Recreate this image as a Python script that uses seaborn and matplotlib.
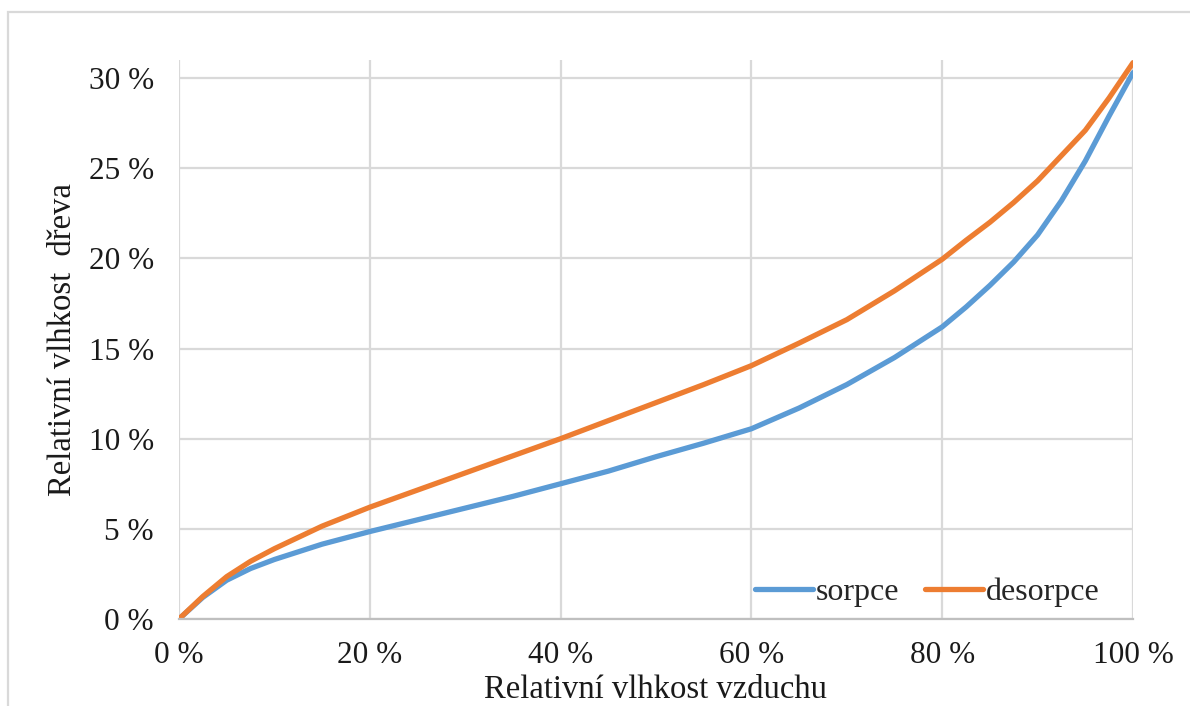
import pandas as pd
import matplotlib.pyplot as plt
import matplotlib.patches as mpatches
import seaborn as sns

# --- Data ---
rh_air = [0, 2.5, 5, 7.5, 10, 15, 20, 25, 30, 35, 40, 45, 50, 55, 60, 65, 70, 75,
          80, 82.5, 85, 87.5, 90, 92.5, 95, 97.5, 100]
sorpce = [0, 1.2, 2.15, 2.8, 3.3, 4.15, 4.85, 5.5, 6.15, 6.8, 7.5, 8.2, 9.0, 9.75, 10.55, 11.7, 13.0, 14.5,
          16.2, 17.3, 18.5, 19.8, 21.3, 23.2, 25.4, 27.9, 30.3]
desorpce = [0, 1.25, 2.35, 3.2, 3.9, 5.15, 6.2, 7.15, 8.1, 9.05, 10.0, 11.0, 12.0, 13.0, 14.05, 15.3, 16.6, 18.2,
            19.95, 21.0, 22.0, 23.1, 24.3, 25.7, 27.1, 28.9, 30.85]

x_ticks = [0, 20, 40, 60, 80, 100]
y_ticks = [0, 5, 10, 15, 20, 25, 30]
x_tick_labels = ["0 %", "20 %", "40 %", "60 %", "80 %", "100 %"]
y_tick_labels = ["0 %", "5 %", "10 %", "15 %", "20 %", "25 %", "30 %"]

series_names = ["sorpce", "desorpce"]
colors = ["#5B9BD5", "#ED7D31"]

df = pd.concat([
    pd.DataFrame({"rh": rh_air, "mc": sorpce, "serie": "sorpce"}),
    pd.DataFrame({"rh": rh_air, "mc": desorpce, "serie": "desorpce"}),
])

# --- Plot ---
sns.set_theme(style="whitegrid")
plt.rcParams['font.family'] = ['Liberation Serif', 'DejaVu Serif']
GRID = "#D9D9D9"

fig = plt.figure(figsize=(11.9, 7.06), dpi=100)
ax = fig.add_axes([179 / 1190, 1 - 619 / 706, (1133 - 179) / 1190, (619 - 60) / 706])

sns.lineplot(data=df, x="rh", y="mc", hue="serie", hue_order=series_names,
             palette=colors, linewidth=3.8, ax=ax, legend=True)
for line in ax.get_lines():
    line.set_solid_joinstyle("round")
    line.set_solid_capstyle("round")

ax.set_xlim(0, 100)
ax.set_ylim(0, 31)
ax.set_xticks(x_ticks)
ax.set_xticklabels(x_tick_labels)
ax.set_yticks(y_ticks)
ax.set_yticklabels(y_tick_labels)
ax.tick_params(axis="both", length=0, labelsize=22.5, colors="#1a1a1a")
ax.tick_params(axis="x", pad=16)
ax.tick_params(axis="y", pad=18)

ax.grid(True, color=GRID, linewidth=1.6)
ax.set_facecolor("white")
for side in ["top", "right", "left"]:
    ax.spines[side].set_visible(False)
ax.spines["bottom"].set_color("#BFBFBF")
ax.spines["bottom"].set_linewidth(1.6)

ax.set_xlabel("Relativní vlhkost vzduchu", fontsize=23.5, color="#1a1a1a", labelpad=3)
ax.set_ylabel("Relativní vlhkost  dřeva", fontsize=23.5, color="#1a1a1a", labelpad=8)

leg = ax.legend(loc="lower right", bbox_to_anchor=(0.995, -0.03), ncol=2, frameon=False,
                fontsize=23, handlelength=1.8, handletextpad=0.1, columnspacing=0.8)
for line in leg.get_lines():
    line.set_linewidth(3.8)
    line.set_solid_capstyle("round")

# outer chart frame (cropped at the right and bottom in the reference)
fig.patches.append(mpatches.Rectangle((8 / 1190, -0.05), 1.1, 1 - 12 / 706 + 0.05,
                                      transform=fig.transFigure, fill=False,
                                      edgecolor=GRID, linewidth=1.6))

fig.savefig("out.png", dpi=100, facecolor="white")
